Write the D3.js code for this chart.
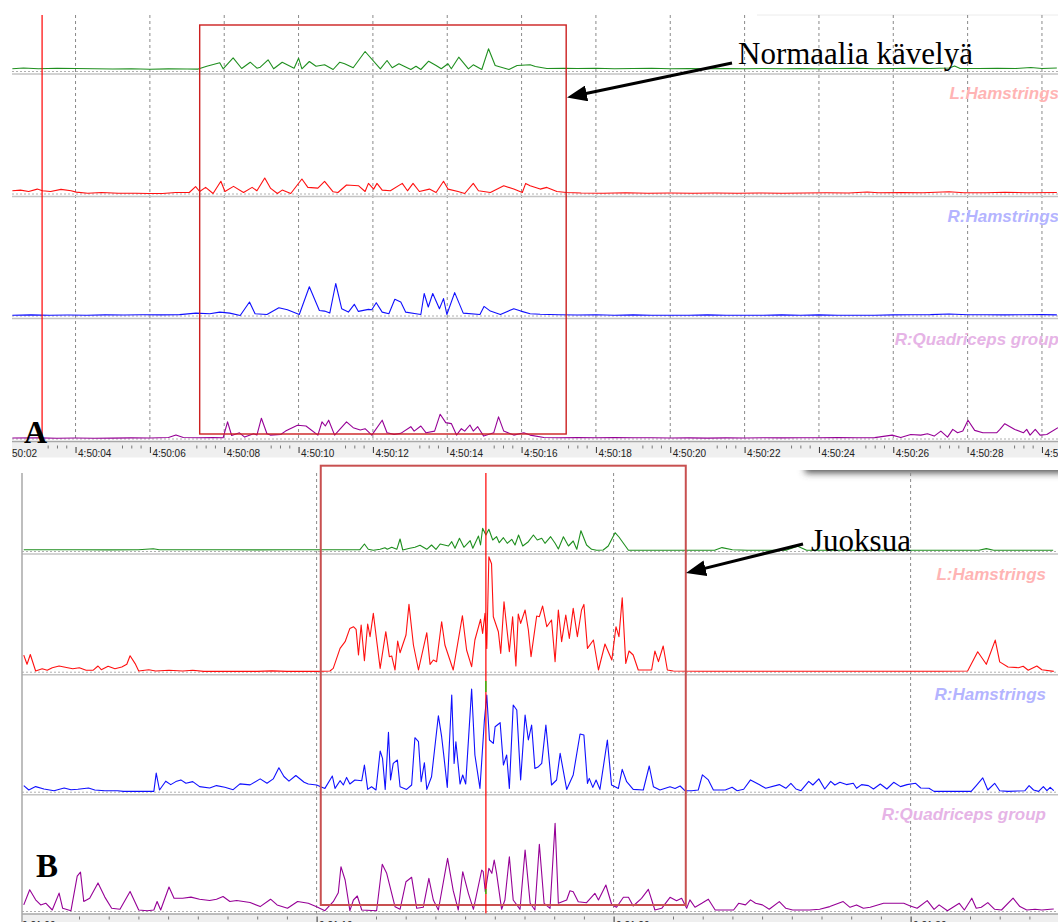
<!DOCTYPE html>
<html>
<head>
<meta charset="utf-8">
<script src="https://cdn.jsdelivr.net/npm/d3@7"></script>
<style>
  body { margin: 0; background: #fff; }
  svg { display: block; }
</style>
</head>
<body>
<script>
// Panel A: walking, time in s after 4:50:00, amplitude in relative units
const walkTicks = [2, 4, 6, 8, 10, 12, 14, 16, 18, 20, 22, 24, 26, 28, 30];
const walkTickLabels = ["4:50:02", "4:50:04", "4:50:06", "4:50:08", "4:50:10", "4:50:12", "4:50:14", "4:50:16",
  "4:50:18", "4:50:20", "4:50:22", "4:50:24", "4:50:26", "4:50:28", "4:50:30"];
const walkWindow = [7.34, 17.2];
const walkCursor = 3.1;

const walkGreen = [[2.3,2.2],[2.6,3],[3.0,2.3],[3.5,2.7],[4.0,2.5],[4.5,2.3],[5.0,2],[5.5,2.2],[6.0,1.8],[6.5,2.1],[7.0,2],[7.3,1.9],
  [7.53,4.8],[7.88,8.2],[7.97,2.2],[8.24,13.2],[8.47,2.5],[8.70,8.8],[8.88,2.8],[8.97,3.8],[9.18,11.2],[9.33,2.2],[9.56,8.8],[9.88,2.8],
  [10.0,12.8],[10.09,2.2],[10.29,9.5],[10.47,4.8],[10.70,6.2],[10.93,1.5],[11.11,8.8],[11.24,7.2],[11.47,3.2],[11.79,19.5],[12.20,2.2],
  [12.38,10.5],[12.52,3.2],[12.70,7.2],[13.02,1.5],[13.16,4.8],[13.29,1.5],[13.50,9.8],[13.70,5.5],[13.84,2.2],[14.02,7.2],[14.11,2.2],
  [14.31,13.8],[14.57,2.2],[14.70,6.2],[14.93,1.5],[15.11,22.2],[15.29,5.5],[15.66,1.5],[15.88,5.5],[16.23,6.2],[16.37,4.5],[16.68,2.5],
  [17.14,2.8],[17.5,2.5],[18,2.8],[18.5,2.3],[19,2.5],[19.5,2.7],[20,2.2],[20.5,2.5],[21,2.3],[21.5,2.5],[22,2.2],[22.5,2.5],[23,2.3],
  [23.5,2.5],[24,2.2],[24.5,2.5],[25,2.7],[25.5,2.3],[26,2.5],[26.5,2.8],[27,2.5],[27.5,3],[27.65,5],[27.8,2.5],[28.3,2.5],[28.8,2.8],
  [29.3,2.5],[29.7,3.5],[30,2.5],[30.4,3]];

const walkRed = [[2.30,2.7],[2.52,3.4],[2.74,2],[2.97,4.4],[3.11,2.7],[3.33,2],[3.61,4.1],[3.88,2.7],[4.02,1.4],[4.33,0.3],[4.70,1],
  [5.15,0.3],[5.61,0.3],[5.97,0],[6.34,0],[6.70,1],[7.06,1],[7.23,6.8],[7.34,2],[7.50,6.1],[7.70,0],[7.91,12.2],[8.02,2],[8.25,7.1],
  [8.52,1],[8.75,6.1],[8.88,2.7],[9.09,15.5],[9.25,5.1],[9.43,0],[9.56,3.4],[9.79,0],[10.09,14.5],[10.25,6.1],[10.52,5.4],[10.70,12.2],
  [10.93,1.7],[11.06,1],[11.29,8.5],[11.61,7.8],[11.79,2],[11.88,10.1],[12.02,4.4],[12.11,10.1],[12.25,3.4],[12.47,2.7],[12.79,10.1],
  [12.93,2.7],[13.08,10.1],[13.25,2],[13.52,4.4],[13.70,1],[13.90,12.2],[14.02,4.4],[14.29,2],[14.47,0],[14.70,10.1],[14.84,2.7],
  [15.16,1],[15.52,7.8],[15.79,4.4],[16.02,1],[16.11,10.1],[16.23,7.8],[16.50,4.4],[16.68,6.1],[16.95,2],[17.21,1],[17.6,0.5],[18.2,0.3],
  [18.8,0.7],[19.4,0.3],[20,0.5],[20.6,0.3],[21.2,0.5],[21.8,0.3],[22.4,0.5],[23,0.3],[23.6,0.5],[24.2,0.7],[24.8,0.5],[25.3,1.5],
  [25.6,0.7],[26.2,1],[26.8,0.7],[27.5,1.8],[27.9,0.8],[28.5,0.7],[29,1.2],[29.6,0.8],[30.4,1]];

const walkBlue = [[2.30,0.3],[2.8,0.6],[3.3,0.3],[3.8,0.5],[4.3,0.3],[4.8,0.6],[5.3,0.5],[5.8,0.7],[6.3,0.6],[6.8,0.9],[7.24,2.4],
  [7.61,1.7],[7.88,3.4],[8.15,2.4],[8.43,0],[8.68,13.5],[8.83,1.7],[9.15,1],[9.47,7.8],[9.70,5.7],[10.02,1],[10.29,28.7],[10.56,5],
  [10.70,4.4],[10.84,2.4],[11.00,32],[11.16,6.8],[11.34,3.4],[11.50,11.2],[11.61,4.1],[11.88,6.1],[11.97,5.7],[12.09,12.8],[12.25,3.4],
  [12.43,1.7],[12.59,16.2],[12.75,13.5],[12.88,3.4],[13.16,1.7],[13.29,1],[13.38,22],[13.49,8.5],[13.61,22],[13.79,6.8],[13.90,16.9],
  [13.99,1],[14.20,22.9],[14.43,2.4],[14.88,1],[14.99,9.1],[15.16,4.4],[15.43,1],[15.79,6.8],[15.98,4.4],[16.23,1.7],[16.5,1.2],[17,0.8],
  [17.5,0.5],[18,0.8],[18.5,0.3],[19,0.6],[19.5,0.3],[20,0.3],[20.5,0.3],[21,0.6],[21.5,0.3],[22,0.3],[22.5,0.3],[23,0.6],[23.5,0.3],
  [24,0.6],[24.5,0.3],[25,0.3],[25.5,0.3],[26,0.6],[26.5,0.8],[27,0.9],[27.5,1.5],[28,0.8],[28.5,0.8],[29,0.6],[29.5,0.8],[30,0.9],[30.4,0.6]];

const walkPurple = [[2.30,0.5],[3,0.6],[3.5,0.3],[4,0.5],[4.5,0.3],[5,0.4],[5.5,0.6],[6,0.5],[6.5,1],[6.70,3.4],[6.9,1],[7.3,0.8],
  [7.7,1],[7.97,0.7],[8.09,16.6],[8.20,3],[8.41,5.7],[8.55,1.4],[8.79,4.7],[8.88,3.4],[9.00,20.3],[9.15,4.7],[9.24,3.4],[9.52,4],
  [9.65,7.4],[9.97,13.2],[10.20,12.5],[10.52,3.4],[10.63,16.6],[10.72,12.5],[10.81,18.3],[10.97,3.4],[11.29,16.6],[11.47,10.8],
  [11.66,8.5],[11.79,9.8],[11.97,3.4],[12.25,18.3],[12.38,5.7],[12.57,4.1],[12.75,5.1],[13.02,11.8],[13.11,7.4],[13.29,12.5],
  [13.43,5.7],[13.66,7.4],[13.81,24.3],[13.96,15.9],[14.11,14.9],[14.25,3.4],[14.38,9.8],[14.47,7.4],[14.61,13.5],[14.70,7.4],
  [14.82,11.8],[14.98,2.4],[15.25,5.7],[15.38,21.6],[15.52,7.4],[15.79,3.4],[16.06,5.7],[16.23,3.4],[16.6,1],[17,0.8],[17.5,1],
  [18,0.7],[18.5,1],[19,0.8],[19.5,0.7],[20,0.5],[20.5,0.6],[21,0.4],[21.5,0.6],[22,0.5],[22.5,0.7],[23,0.6],[23.5,0.8],[24,0.7],
  [24.5,1],[25,0.8],[25.5,0.9],[25.97,3.4],[26.2,1],[26.47,4],[26.74,3.4],[26.92,4.7],[27.10,2.4],[27.28,7.4],[27.46,1.4],[27.60,9.1],
  [27.73,5.7],[27.87,7.4],[28.01,18.2],[28.19,8.1],[28.41,5.7],[28.78,5.7],[28.87,9.1],[29.0,14.8],[29.27,9.1],[29.50,5.7],[29.59,9.1],
  [29.68,3.4],[29.82,9.1],[29.95,3.4],[30.13,4],[30.43,10.8]];

// Panel B: running, time in s after 0:21:00
const runTicks = [0, 10, 20, 30];
const runTickLabels = ["0:21:00", "0:21:10", "0:21:20", "0:21:30"];
const runWindow = [10.14, 22.43];
const runCursor = 15.7;

const runGreen = [[0.14,1.3],[1,1.2],[2,1.3],[3,1.1],[4,1.3],[4.5,2.2],[4.7,1.3],[6,1.2],[7,1.3],[8,1.1],[9,1.2],[10,1.3],[11,1.2],
  [11.46,1.3],[11.61,7],[11.74,1.7],[11.91,0.7],[12.14,1.7],[12.30,3.3],[12.38,1.7],[12.53,3.7],[12.70,1.7],[12.81,12],[12.90,1],
  [13.14,2.7],[13.31,3.7],[13.48,5.7],[13.71,1.7],[13.87,6],[14.02,1.7],[14.16,7],[14.44,5],[14.55,9.3],[14.66,2.7],[14.81,12.7],
  [14.96,3.7],[15.17,10.3],[15.26,2.7],[15.45,15],[15.52,6],[15.59,22.7],[15.70,16],[15.80,21.7],[15.93,11],[16.06,14.3],[16.15,8.3],
  [16.29,13.3],[16.42,7.7],[16.57,11.7],[16.68,6],[16.80,16],[16.94,5],[17.13,9.3],[17.30,16],[17.43,11],[17.58,12.7],[17.69,7.7],
  [17.88,14.3],[18.03,7.7],[18.14,2],[18.31,14.3],[18.48,5],[18.64,10],[18.76,1.7],[18.90,20.3],[19.09,6],[19.26,1.7],[19.43,0.7],
  [19.65,1],[19.82,5],[20.05,18.3],[20.18,14],[20.50,0.7],[21,0.8],[22,0.7],[23,0.8],[23.4,0.8],[23.65,3.4],[24.0,1.2],[24.5,0.8],
  [25,0.7],[25.8,0.8],[26.2,4.7],[26.5,0.8],[27.5,0.7],[28.5,0.8],[29.5,0.7],[30.5,0.8],[31.5,0.7],[32.3,0.8],[32.55,2.4],[32.8,0.8],
  [33.5,0.7],[34.8,0.8]];

const runRed = [[0.14,16.6],[0.25,7.4],[0.36,17.2],[0.54,0.7],[0.76,3],[0.93,1.4],[1.10,4],[1.33,5.7],[1.62,4],[1.79,3],[2.01,4],
  [2.24,1.4],[2.47,1.4],[2.64,5.7],[2.75,2],[2.98,5.4],[3.21,3],[3.44,4.7],[3.61,7.4],[3.72,15.9],[3.89,8.1],[4.01,0.7],[4.35,2],
  [4.58,0.7],[5.03,1.4],[5.49,0.7],[5.83,1.4],[6.2,0.3],[7,0.3],[8,0.3],[8.5,0.8],[9,0.3],[10,0.3],[10.45,0.7],[10.56,3.3],[10.79,23.3],
  [10.96,30],[11.12,43.3],[11.24,45],[11.33,42.3],[11.41,16.7],[11.50,46.7],[11.61,11],[11.72,47.7],[11.80,35],[11.91,58.3],[12.02,31.7],
  [12.14,3.3],[12.33,40],[12.45,15],[12.53,15.7],[12.64,1.7],[12.73,30.7],[12.81,19],[13.01,36.7],[13.11,67.3],[13.26,26.7],[13.43,1.7],
  [13.71,39],[13.82,7.3],[13.93,11.7],[14.04,10],[14.21,50],[14.32,26.7],[14.60,1.7],[14.91,56],[15.05,21.7],[15.22,5],[15.33,31.7],
  [15.52,52.3],[15.59,38.3],[15.67,58.3],[15.73,23.3],[15.80,115],[15.89,108],[15.95,55],[16.12,40],[16.20,18.3],[16.31,70],[16.49,20],
  [16.60,55],[16.71,5.7],[16.79,57.7],[16.87,48.3],[17.02,61.7],[17.13,41.7],[17.22,15],[17.41,55.7],[17.50,55],[17.61,65.7],[17.75,45],
  [17.91,51.7],[18.03,10],[18.14,61.7],[18.25,30],[18.39,56.7],[18.51,33.3],[18.64,63.3],[18.78,35],[18.92,61.7],[19.00,67.3],
  [19.12,23.3],[19.32,31.7],[19.49,1.7],[19.71,27.7],[19.94,11.7],[20.08,45],[20.18,35],[20.29,74],[20.41,8.3],[20.52,20.7],[20.66,16.7],
  [20.83,1.7],[21.28,1.7],[21.39,20.7],[21.51,10],[21.67,25.7],[21.81,1.7],[22.01,0.7],[23,0.5],[24,0.5],[25,0.4],[26,0.5],[27,0.4],
  [28,0.5],[29,0.4],[30,0.5],[31,0.4],[31.92,0.7],[32.26,19.9],[32.55,7.4],[32.85,31.6],[33.0,9.8],[33.28,4.7],[33.63,4],[33.79,5.4],
  [33.96,1.4],[34.25,5.7],[34.42,2],[34.82,0.3]];

const runBlue = [[0.14,6.1],[0.31,1.7],[0.54,5.1],[0.82,2.7],[1.16,1],[1.50,3.7],[1.73,2],[1.96,2.4],[2.32,3.7],[2.53,1.7],[2.87,1],
  [3.3,1],[3.5,0.3],[4.52,0.3],[4.60,18.6],[4.71,1.7],[4.92,10.5],[5.09,7.1],[5.26,10.1],[5.43,11.8],[5.60,8.5],[5.83,10.1],[6.06,5.1],
  [6.40,3.7],[6.63,6.1],[6.91,4.4],[7.19,2],[7.42,7.8],[7.76,6.8],[8.10,12.8],[8.33,8.5],[8.54,12.8],[8.73,24],[8.90,15.2],[9.07,10.5],
  [9.30,16.2],[9.58,9.5],[9.72,7.7],[10.0,6.7],[10.28,3.3],[10.53,15.7],[10.62,3.3],[10.79,11],[10.90,6.7],[11.01,14.3],[11.12,7.7],
  [11.29,11.7],[11.52,11],[11.61,26.7],[11.72,2.3],[11.85,5],[12.0,1.7],[12.14,40.7],[12.22,33.3],[12.31,2.3],[12.42,59.3],[12.49,11.7],
  [12.58,28.3],[12.72,31.7],[12.81,5],[13.03,2.3],[13.20,6.7],[13.31,54],[13.43,50],[13.52,10],[13.63,29],[13.71,2.3],[13.87,15],
  [14.10,76],[14.21,55],[14.29,34.3],[14.40,4.3],[14.55,96.7],[14.63,28.3],[14.69,50],[14.83,7.7],[14.92,16.7],[15.02,7.7],[15.22,102.7],
  [15.33,36.7],[15.50,3.3],[15.65,71.7],[15.73,96.7],[15.82,51.7],[15.95,48.3],[16.01,65],[16.18,69],[16.29,26.7],[16.40,36.7],
  [16.49,3.3],[16.62,86.7],[16.74,81.7],[16.87,11.7],[17.02,76.7],[17.13,51.7],[17.24,66.7],[17.35,23.3],[17.47,25],[17.58,28.3],
  [17.72,66.7],[17.91,6.7],[18.08,11.7],[18.20,38.3],[18.42,2.3],[18.64,16.7],[18.87,57.7],[19.0,56.7],[19.12,8.3],[19.18,13.3],
  [19.30,4.3],[19.41,11.7],[19.54,2.3],[19.79,51.7],[19.93,6.7],[20.05,5],[20.16,3.3],[20.29,22.3],[20.44,10],[20.66,2.3],[21.0,1.7],
  [21.20,25.7],[21.34,5],[21.56,1.7],[21.90,5],[22.07,3.3],[22.24,5.7],[22.40,1],[22.63,1],[22.85,1.7],[22.99,16.8],[23.19,11.8],
  [23.36,1.7],[23.76,1.7],[23.99,4.4],[24.16,1],[24.38,2.4],[24.61,11.8],[24.90,7.1],[25.12,3.4],[25.58,7.1],[25.80,3.4],[25.97,8.4],
  [26.14,2.7],[26.31,1],[26.57,10.4],[26.71,6.7],[26.91,12.8],[27.11,2.7],[27.31,10.4],[27.45,6.7],[27.62,9.4],[27.84,7.1],[28.07,8.4],
  [28.18,3.4],[28.35,7.1],[28.58,6.1],[28.75,2.7],[28.98,7.7],[29.20,2.7],[29.43,9.4],[29.66,5.1],[29.88,7.1],[30.17,8.4],[30.34,3.7],
  [30.62,3.4],[30.79,0.3],[32.04,0.3],[32.21,6.1],[32.43,13.8],[32.60,1.7],[32.83,8.4],[33.0,1],[33.28,0.3],[33.85,1],[33.99,6.1],
  [34.14,1.7],[34.31,0.3],[34.47,5.1],[34.59,1],[34.70,4.4],[34.82,1]];

const runPurple = [[0.14,6.1],[0.34,21.3],[0.54,11.2],[0.71,6.1],[0.88,7.8],[1.10,1],[1.33,17.9],[1.45,2.7],[1.73,0.3],[1.94,34.8],
  [2.05,38.9],[2.16,9.5],[2.36,12.8],[2.64,28.1],[2.87,13.9],[3.10,2.7],[3.38,1.7],[3.72,19.6],[4.01,1],[4.30,0.3],[4.52,1],[4.63,9.5],
  [4.75,1],[5.03,24],[5.20,12.8],[5.49,12.8],[5.77,13.9],[6.06,11.8],[6.40,10.5],[6.63,11.8],[6.85,14.5],[7.08,9.5],[7.31,10.5],[7.76,8.5],
  [8.10,4.4],[8.45,11.8],[8.67,6.1],[9.02,2.7],[9.36,9.5],[9.72,7.7],[10.0,4.3],[10.28,0.3],[10.56,9.3],[10.73,18.3],[10.82,44.3],
  [10.96,31],[11.12,0.3],[11.24,11],[11.37,15],[11.52,1],[12.02,0.3],[12.21,46.7],[12.36,37.7],[12.64,4.3],[12.81,1.7],[13.01,29.3],
  [13.20,33.7],[13.37,2.7],[13.59,3.7],[13.78,32.7],[13.93,11],[14.10,1],[14.41,52.7],[14.60,20.3],[14.77,1],[14.92,39.3],[15.11,17.7],
  [15.28,1.7],[15.56,41],[15.61,39.3],[15.68,19.3],[15.80,42.7],[15.90,37.7],[15.98,51],[16.06,37.7],[16.23,1.7],[16.34,11],[16.49,54.3],
  [16.62,11],[16.85,1.7],[17.02,61],[17.19,7.7],[17.35,1],[17.50,66.7],[17.66,7.7],[17.86,2.7],[18.03,87.7],[18.14,7.7],[18.42,11],
  [18.53,20.3],[18.64,19.3],[18.81,9.3],[19.09,8.3],[19.37,17.7],[19.49,11],[19.74,26],[19.94,6],[20.10,3.7],[20.33,13.7],[20.50,13.7],
  [20.66,5],[20.94,12.7],[21.17,21.7],[21.39,1],[21.62,2.7],[21.90,13.7],[22.12,10.3],[22.29,12.7],[22.46,2.7],[22.57,11.1],[22.74,3.7],
  [22.97,7.7],[23.19,11.8],[23.42,1],[23.76,1],[24.04,1],[24.21,7.7],[24.44,6.1],[24.61,11.1],[24.78,7.7],[25.01,6.1],[25.24,1.7],
  [25.58,9.4],[25.80,2.7],[26.03,1],[26.60,1],[26.94,1.7],[27.28,4.4],[27.73,9.4],[27.96,3.7],[28.18,6.1],[28.41,2.7],[28.64,3.7],
  [29.09,7.7],[29.54,7.7],[29.77,7.7],[29.99,5.1],[30.22,2.7],[30.56,10.4],[30.79,1.7],[30.96,6.1],[31.24,0.3],[31.64,7.7],[31.81,1],
  [32.06,12.8],[32.21,2.7],[32.38,3.7],[32.60,8.4],[32.83,1.7],[33.06,1],[33.45,12.8],[33.68,4.4],[33.91,1],[34.19,1.7],[34.42,1],
  [34.70,1.7],[34.82,2]];

const channelNames = ["", "L:Hamstrings", "R:Hamstrings", "R:Quadriceps group"];
const channelColors = ["#1f8f1f", "#ff1010", "#1010ff", "#960096"];
const labelColors = ["#fff", "#ffb4b4", "#b4b4ff", "#e6b4e6"];

const W = 1058, H = 922;

const svg = d3.select("body").append("svg")
  .attr("width", W)
  .attr("height", H);
const defs = svg.append("defs");

defs.append("filter").attr("id", "blur")
  .attr("x", "-20%").attr("y", "-100%").attr("width", "140%").attr("height", "300%")
  .append("feGaussianBlur").attr("stdDeviation", 3.5);

defs.append("marker").attr("id", "head")
  .attr("markerUnits", "userSpaceOnUse")
  .attr("viewBox", "0 0 20 16").attr("markerWidth", 20).attr("markerHeight", 16)
  .attr("refX", 8).attr("refY", 8).attr("orient", "auto")
  .append("path").attr("d", "M0,0 L20,8 L0,16 Z").attr("fill", "#000");

// drop shadow of the upper screenshot
svg.append("rect").attr("x", 805).attr("y", 462).attr("width", 275).attr("height", 11)
  .attr("fill", "#555").attr("filter", "url(#blur)");
svg.append("rect").attr("x", 700).attr("y", 0).attr("width", 360).attr("height", 470).attr("fill", "#fff");
svg.append("line").attr("x1", 757).attr("x2", W).attr("y1", 15).attr("y2", 15).attr("stroke", "#ececec");

const panelA = {
  id: "A",
  x: d3.scaleLinear().domain([2, 30]).range([1.2, 1041.96]),
  left: 12, top: 15,
  baselines: [71, 193.5, 315.5, 438.5],
  series: [walkGreen, walkRed, walkBlue, walkPurple],
  grid: walkTicks,
  ticks: walkTicks, tickLabels: walkTickLabels,
  // quarter-second ticks, hidden where a time label sits
  minor: d3.range(2, 31, 0.25).filter(t => (t - 2) % 2 > 1.1),
  axisY: 441.5, axisH: 16, minorY: 445.5, minorLen: 3, majorY: 447, majorLen: 6, labelY: 9.5,
  labelX: 1059, labelY0: [0, 99, 222, 345],
  window: walkWindow, boxY: [25, 434], boxColor: "#cc2020", boxWidth: 1.4,
  cursor: walkCursor, cursorY: [15, 441],
  border: false
};

const panelB = {
  id: "B",
  x: d3.scaleLinear().domain([0, 30]).range([19.6, 910.6]),
  left: 22, top: 473,
  baselines: [551, 671.7, 791.7, 911],
  series: [runGreen, runRed, runBlue, runPurple],
  grid: [10, 20, 30],
  ticks: runTicks, tickLabels: runTickLabels,
  minor: d3.range(0, 36).filter(t => t % 10 > 1.1),
  axisY: 914, axisH: 9, minorY: 916.5, minorLen: 3, majorY: 916.5, majorLen: 8, labelY: 12,
  labelX: 1046, labelY0: [0, 580, 700, 820],
  window: runWindow, boxY: [465.7, 905], boxColor: "#c85050", boxWidth: 2,
  cursor: runCursor, cursorY: [473, 914],
  border: true
};

function drawPanel(p) {
  const clipId = "clip" + p.id;
  defs.append("clipPath").attr("id", clipId).append("rect")
    .attr("x", p.left).attr("y", 0).attr("width", W - p.left).attr("height", H);

  const g = svg.append("g").attr("clip-path", `url(#${clipId})`);

  // vertical grid
  g.append("g").selectAll("line").data(p.grid).join("line")
    .attr("x1", d => p.x(d)).attr("x2", d => p.x(d))
    .attr("y1", p.top).attr("y2", p.axisY)
    .attr("stroke", "#8a8a8a").attr("stroke-dasharray", "3,3");

  // channel baselines and separators
  g.append("g").selectAll("line").data(p.baselines).join("line")
    .attr("x1", p.left).attr("x2", W)
    .attr("y1", d => d + 0.5).attr("y2", d => d + 0.5)
    .attr("stroke", "#b0b0b0").attr("stroke-dasharray", "2,2");
  g.append("g").selectAll("line").data(p.baselines.slice(0, 3)).join("line")
    .attr("x1", p.left).attr("x2", W)
    .attr("y1", d => d + 3).attr("y2", d => d + 3)
    .attr("stroke", "#c4c4c4").attr("stroke-width", 1.6);

  // signals
  p.series.forEach((data, i) => {
    const y = d3.scaleLinear().domain([0, 120]).range([p.baselines[i], p.baselines[i] - 120]);
    const line = d3.line().x(d => p.x(d[0])).y(d => y(d[1]));
    g.append("path")
      .datum(data)
      .attr("fill", "none")
      .attr("stroke", channelColors[i])
      .attr("stroke-width", 1.1)
      .attr("stroke-linejoin", "round")
      .attr("d", line);
  });

  // channel names
  svg.append("g").selectAll("text").data(channelNames.slice(1)).join("text")
    .attr("x", p.labelX)
    .attr("y", (d, i) => p.labelY0[i + 1])
    .attr("text-anchor", "end")
    .attr("fill", (d, i) => labelColors[i + 1])
    .style("font", "italic bold 17px 'Liberation Sans', Arial, sans-serif")
    .text(d => d);

  // selection window
  svg.append("rect")
    .attr("x", p.x(p.window[0]))
    .attr("y", p.boxY[0])
    .attr("width", p.x(p.window[1]) - p.x(p.window[0]))
    .attr("height", p.boxY[1] - p.boxY[0])
    .attr("fill", "none")
    .attr("stroke", p.boxColor)
    .attr("stroke-width", p.boxWidth);

  // cursor
  svg.append("line")
    .attr("x1", p.x(p.cursor)).attr("x2", p.x(p.cursor))
    .attr("y1", p.cursorY[0]).attr("y2", p.cursorY[1])
    .attr("stroke", "#ff0000").attr("stroke-width", 1.2);

  // time axis
  const ag = svg.append("g").attr("clip-path", `url(#${clipId})`);
  ag.append("rect").attr("x", p.left).attr("y", p.axisY).attr("width", W - p.left).attr("height", p.axisH)
    .attr("fill", "#efefef");
  ag.append("line").attr("x1", p.left).attr("x2", W).attr("y1", p.axisY).attr("y2", p.axisY)
    .attr("stroke", "#a8a8a8").attr("stroke-width", 1.5);

  const minor = ag.append("g").attr("transform", `translate(0,${p.minorY})`)
    .call(d3.axisBottom(p.x).tickValues(p.minor).tickSize(p.minorLen).tickFormat(""));
  minor.select(".domain").remove();
  minor.selectAll(".tick line").attr("stroke", "#777");

  const major = ag.append("g").attr("transform", `translate(0,${p.majorY})`)
    .call(d3.axisBottom(p.x).tickValues(p.ticks).tickSize(p.majorLen).tickFormat((d, i) => p.tickLabels[i]));
  major.select(".domain").remove();
  major.selectAll(".tick line").attr("stroke", "#333");
  major.selectAll(".tick text")
    .attr("text-anchor", "start")
    .attr("x", 2).attr("y", p.labelY).attr("dy", 0)
    .attr("fill", "#222")
    .style("font", "10px 'Liberation Sans', Arial, sans-serif");

  if (p.border) {
    svg.append("line").attr("x1", p.left).attr("x2", p.left).attr("y1", p.top).attr("y2", H)
      .attr("stroke", "#a8a8a8").attr("stroke-width", 1.5);
  }
}

drawPanel(panelA);
drawPanel(panelB);

// small green markers on the running cursor
svg.append("g").selectAll("line").data([[681, 692], [889, 894]]).join("line")
  .attr("x1", panelB.x(runCursor)).attr("x2", panelB.x(runCursor))
  .attr("y1", d => d[0]).attr("y2", d => d[1])
  .attr("stroke", "#00dd00").attr("stroke-width", 1.2);

// annotations
const notes = [
  { text: "Normaalia kävelyä", x: 738, y: 64, from: [732, 63], to: [567, 97.5] },
  { text: "Juoksua", x: 811, y: 551, from: [803, 544], to: [686, 573] }
];
notes.forEach(n => {
  const dx = n.to[0] - n.from[0], dy = n.to[1] - n.from[1];
  const len = Math.hypot(dx, dy);
  const end = [n.to[0] - dx / len * 12, n.to[1] - dy / len * 12];
  svg.append("line")
    .attr("x1", n.from[0]).attr("y1", n.from[1])
    .attr("x2", end[0]).attr("y2", end[1])
    .attr("stroke", "#000").attr("stroke-width", 3)
    .attr("marker-end", "url(#head)");
  svg.append("text")
    .attr("x", n.x).attr("y", n.y)
    .style("font", "31px 'Liberation Serif', 'Times New Roman', serif")
    .attr("fill", "#000")
    .text(n.text);
});

svg.append("text").attr("x", 24).attr("y", 443)
  .style("font", "bold 32px 'Liberation Serif', 'Times New Roman', serif").text("A");
svg.append("text").attr("x", 36).attr("y", 877)
  .style("font", "bold 33px 'Liberation Serif', 'Times New Roman', serif").text("B");
</script>
</body>
</html>
